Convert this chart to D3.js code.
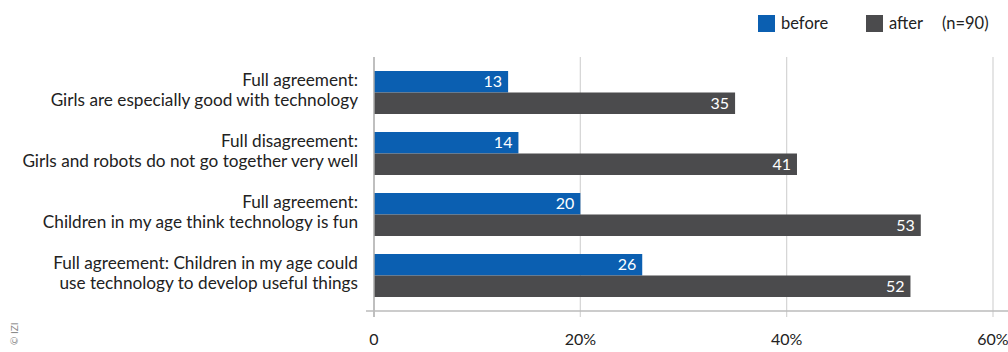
<!DOCTYPE html>
<html>
<head>
<meta charset="utf-8">
<script src="https://cdn.jsdelivr.net/npm/d3@7"></script>
<style>
  body { margin: 0; background: #fff; }
  svg { display: block; font-family: Lato, "Open Sans", sans-serif; }
</style>
</head>
<body>
<svg id="chart" width="1008" height="352"></svg>
<script>
// chart data
var categories = [
    ['Full agreement:', 'Girls are especially good with technology'],
    ['Full disagreement:', 'Girls and robots do not go together very well'],
    ['Full agreement:', 'Children in my age think technology is fun'],
    ['Full agreement: Children in my age could', 'use technology to develop useful things']
]
var before = [13, 14, 20, 26]
var after = [35, 41, 53, 52]
var seriesNames = ['before', 'after']
var ticks = [0, 20, 40, 60]
var tickLabels = ['0', '20%', '40%', '60%']

var colors = { before: '#0b5fb1', after: '#4b4b4d' }

var svg = d3.select('#chart')
var plotLeft = 374, plotRight = 993, plotTop = 57, axisY = 311

var x = d3.scaleLinear().domain([0, 60]).range([plotLeft, plotRight])
var y = d3.scaleBand().domain(d3.range(categories.length))
    .range([62, 306]).paddingInner(0.2951).paddingOuter(0.2951 / 2)

// gridlines
svg.selectAll('line.grid')
    .data(ticks.slice(1))
    .enter().append('line')
    .attr('class', 'grid')
    .attr('x1', function(d) { return x(d) }).attr('x2', function(d) { return x(d) })
    .attr('y1', plotTop).attr('y2', axisY + 6)
    .attr('stroke', '#d4d4d4').attr('stroke-width', 1.2)

// bars
var groups = svg.selectAll('g.cat')
    .data(categories.map(function(c, i) { return { label: c, values: [before[i], after[i]], i: i } }))
    .enter().append('g').attr('class', 'cat')

var barH = y.bandwidth() / 2
groups.each(function(d) {
    var g = d3.select(this)
    d.values.forEach(function(v, k) {
        var y0 = y(d.i) + k * barH
        g.append('rect')
            .attr('x', x(0)).attr('y', y0)
            .attr('width', x(v) - x(0)).attr('height', barH)
            .attr('fill', colors[seriesNames[k]])
        g.append('text')
            .attr('x', x(v) - 6).attr('y', y0 + barH / 2 + 5.5)
            .attr('text-anchor', 'end').attr('fill', '#fff')
            .attr('font-size', 16)
            .text(v)
    })
    var t = g.append('text')
        .attr('text-anchor', 'end').attr('fill', '#222').attr('font-size', 17.2)
    d.label.forEach(function(line, k) {
        t.append('tspan').attr('x', 358)
            .attr('y', y(d.i) + barH - 7 + k * 20)
            .text(line)
    })
})

// axes lines
svg.append('line')
    .attr('x1', plotLeft).attr('x2', plotLeft).attr('y1', plotTop).attr('y2', axisY + 6)
    .attr('stroke', '#aaa').attr('stroke-width', 1.5)
svg.append('line')
    .attr('x1', plotLeft - 8).attr('x2', plotRight + 15).attr('y1', axisY).attr('y2', axisY)
    .attr('stroke', '#bbb').attr('stroke-width', 1.5)

svg.selectAll('text.tick')
    .data(ticks)
    .enter().append('text')
    .attr('class', 'tick')
    .attr('x', function(d) { return x(d) })
    .attr('y', 345)
    .attr('text-anchor', 'middle').attr('font-size', 16).attr('fill', '#222')
    .text(function(d, i) { return tickLabels[i] })

// legend
var legend = [{ name: 'before', x: 758 }, { name: 'after', x: 866 }]
legend.forEach(function(l) {
    svg.append('rect').attr('x', l.x).attr('y', 15).attr('width', 17).attr('height', 17)
        .attr('fill', colors[l.name])
    svg.append('text').attr('x', l.x + 23).attr('y', 29)
        .attr('font-size', 16.5).attr('fill', '#222').text(l.name)
})
svg.append('text').attr('x', 942).attr('y', 29)
    .attr('font-size', 16.5).attr('fill', '#222').text('(n=90)')

// copyright
svg.append('text')
    .attr('transform', 'translate(18,345) rotate(-90)')
    .attr('font-size', 10).attr('fill', '#888')
    .text('© IZI')
</script>
</body>
</html>
